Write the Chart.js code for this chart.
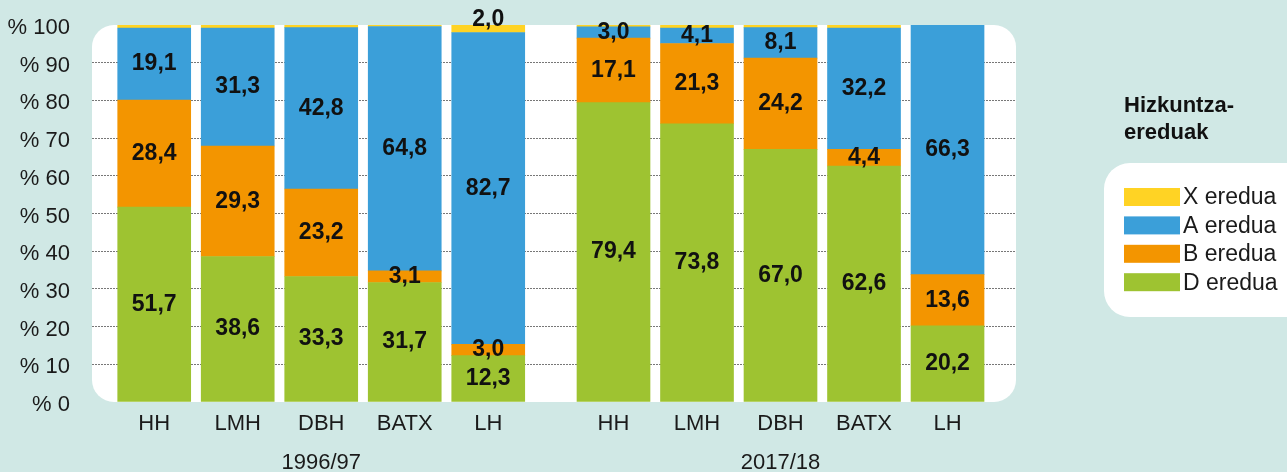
<!DOCTYPE html>
<html>
<head>
<meta charset="utf-8">
<script src="https://cdn.jsdelivr.net/npm/chart.js@4"></script>
<style>
  html, body { margin: 0; padding: 0; background: #d0e8e5; }
  #chart { display: block; }
</style>
</head>
<body>
<canvas id="chart" width="1287" height="472"></canvas>
<script>
/* ================================
   Data
================================ */
const categories = ['HH', 'LMH', 'DBH', 'BATX', 'LH'];
const periods = ['1996/97', '2017/18'];
const seriesNames = ['D eredua', 'B eredua', 'A eredua', 'X eredua'];

// one value per bar: 1996/97 first, then 2017/18
const dValues = [51.7, 38.6, 33.3, 31.7, 12.3, 79.4, 73.8, 67.0, 62.6, 20.2];
const bValues = [28.4, 29.3, 23.2, 3.1, 3.0, 17.1, 21.3, 24.2, 4.4, 13.6];
const aValues = [19.1, 31.3, 42.8, 64.8, 82.7, 3.0, 4.1, 8.1, 32.2, 66.3];
const xValues = [0.8, 0.8, 0.7, 0.4, 2.0, 0.5, 0.8, 0.7, 0.8, 0.0];

const yTicks = [0, 10, 20, 30, 40, 50, 60, 70, 80, 90, 100];
const legendTitle = ['Hizkuntza-', 'ereduak'];

/* ================================
   Styles
================================ */
const colors = ['#9ec331', '#f39500', '#3b9fd9', '#ffd324'];
const FONT = '"Liberation Sans", Arial, sans-serif';
const BG = '#d0e8e5';
const TEXT = '#1a1a1a';

// bars sit on a linear axis: half a slot extra between the two periods
const groupGap = 0.5;
const xPos = [];
const xLabels = [];
periods.forEach((p, pi) => {
  categories.forEach((c, ci) => {
    xPos.push(pi * (categories.length + groupGap) + ci);
    xLabels.push(c);
  });
});

const seriesValues = [dValues, bValues, aValues, xValues];
const datasets = seriesValues.map((vals, si) => ({
  label: seriesNames[si],
  data: vals.map((v, i) => ({ x: xPos[i], y: v })),
  backgroundColor: colors[si],
  borderWidth: 0,
  outside: si === 3
}));

const fmt = v => v.toFixed(1).replace('.', ',');

/* ================================
   Plugins
================================ */
const panels = {
  id: 'panels',
  beforeDraw(chart) {
    const { ctx, chartArea: a, width, height } = chart;
    ctx.save();
    ctx.fillStyle = BG;
    ctx.fillRect(0, 0, width, height);
    ctx.fillStyle = '#fff';
    ctx.beginPath();
    ctx.roundRect(a.left, a.top, a.right - a.left, a.bottom - a.top, 22);
    ctx.fill();
    // legend panel, runs off the right edge
    ctx.beginPath();
    ctx.roundRect(a.right + 88, 163, 240, 154, 26);
    ctx.fill();
    ctx.restore();
  }
};

const valueLabels = {
  id: 'valueLabels',
  afterDatasetsDraw(chart) {
    const ctx = chart.ctx;
    ctx.save();
    ctx.font = 'bold 23px ' + FONT;
    ctx.fillStyle = '#111';
    ctx.textAlign = 'center';
    ctx.textBaseline = 'middle';
    chart.data.datasets.forEach((ds, di) => {
      chart.getDatasetMeta(di).data.forEach((bar, i) => {
        const v = ds.data[i].y;
        if (v < 1.5) return; // slivers stay unlabelled
        const y = ds.outside ? bar.y - 5 : (bar.y + bar.base) / 2;
        ctx.fillText(fmt(v), bar.x, y);
      });
    });
    ctx.restore();
  }
};

const extras = {
  id: 'extras',
  afterDraw(chart) {
    const { ctx, chartArea: a } = chart;
    const xs = chart.scales.x;
    ctx.save();

    // period labels under the category ticks
    ctx.font = '22px ' + FONT;
    ctx.fillStyle = TEXT;
    ctx.textAlign = 'center';
    ctx.textBaseline = 'middle';
    periods.forEach((p, pi) => {
      const mid = pi * (categories.length + groupGap) + (categories.length - 1) / 2;
      ctx.fillText(p, xs.getPixelForValue(mid), 463);
    });

    // legend
    const lx = a.right + 108;
    ctx.textAlign = 'left';
    ctx.font = 'bold 22px ' + FONT;
    ctx.fillStyle = '#111';
    legendTitle.forEach((t, i) => ctx.fillText(t, lx, 106 + i * 27));

    ctx.font = '23px ' + FONT;
    const order = [3, 2, 1, 0];
    order.forEach((si, row) => {
      const cy = 197 + row * 28.4;
      ctx.fillStyle = colors[si];
      ctx.fillRect(lx, cy - 9, 56, 18);
      ctx.fillStyle = TEXT;
      ctx.fillText(seriesNames[si], lx + 59, cy + 1);
    });
    ctx.restore();
  }
};

/* ================================
   Chart
================================ */
new Chart(document.getElementById('chart').getContext('2d'), {
  type: 'bar',
  data: { datasets },
  plugins: [panels, valueLabels, extras],
  options: {
    responsive: false,
    animation: false,
    layout: { autoPadding: false, padding: { top: 25, right: 271, bottom: 0, left: 0 } },
    datasets: { bar: { barThickness: 73 } },
    plugins: {
      legend: { display: false },
      tooltip: { enabled: false }
    },
    scales: {
      x: {
        type: 'linear',
        stacked: true,
        offset: false,
        min: -0.745,
        max: 10.32,
        afterBuildTicks: scale => { scale.ticks = xPos.map(v => ({ value: v })); },
        afterFit: scale => {
          scale.height = 70;
          scale.paddingLeft = 0;
          scale.paddingRight = 0;
        },
        grid: { display: false, drawTicks: false, offset: false },
        border: { display: false },
        ticks: {
          padding: 9,
          autoSkip: false,
          maxRotation: 0,
          color: TEXT,
          font: { family: FONT, size: 22 },
          callback: (v, i) => xLabels[i]
        }
      },
      y: {
        stacked: true,
        min: 0,
        max: 100,
        afterBuildTicks: scale => { scale.ticks = yTicks.map(v => ({ value: v })); },
        afterFit: scale => {
          scale.width = 92;
          scale.paddingTop = 0;
          scale.paddingBottom = 0;
        },
        grid: {
          drawTicks: false,
          color: c => (c.tick.value === 0 || c.tick.value === 100) ? 'rgba(0,0,0,0)' : '#777'
        },
        border: { display: false, dash: [2, 1] },
        ticks: {
          padding: 22,
          labelOffset: 3,
          color: TEXT,
          font: { family: FONT, size: 22 },
          callback: v => '% ' + v
        }
      }
    }
  }
});
</script>
</body>
</html>
